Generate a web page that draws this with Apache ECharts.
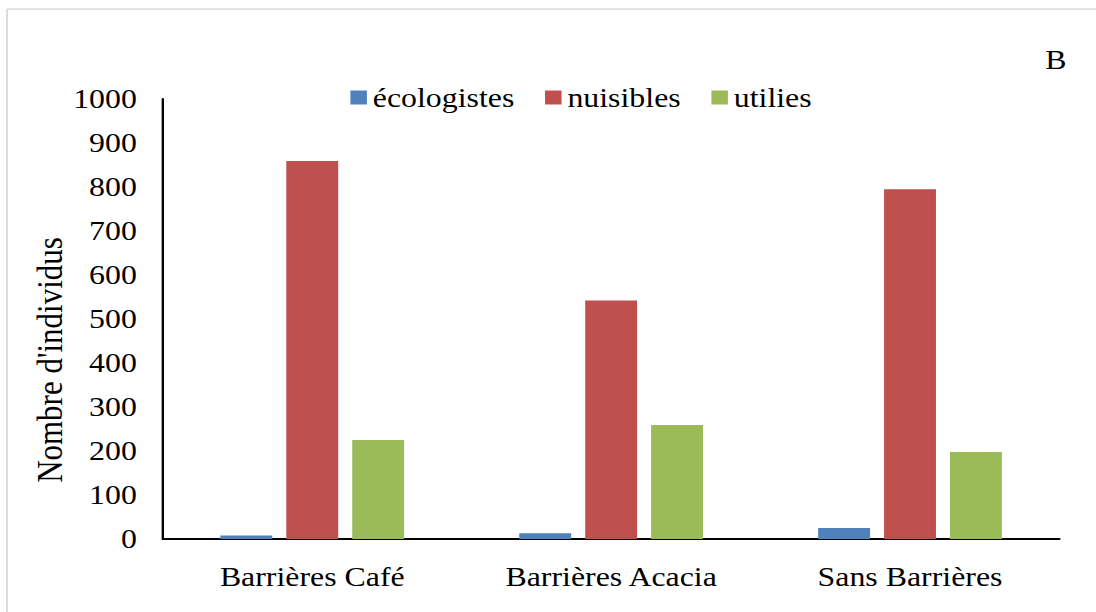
<!DOCTYPE html>
<html>
<head>
<meta charset="utf-8">
<script src="https://cdn.jsdelivr.net/npm/echarts@6/dist/echarts.min.js"></script>
<style>
  html, body { margin: 0; padding: 0; background: #ffffff; overflow: hidden; }
  #wrap { width: 1096px; height: 612px; overflow: hidden; background: #ffffff; }
  /* the drawing is laid out narrower and widened so the serif text keeps its wide look */
  #chart { width: 940px; height: 612px; transform: scaleX(1.1798); transform-origin: 0 0; }
</style>
</head>
<body>
<div id="wrap"><div id="chart"></div></div>
<script>
const categories = ['Barrières Café', 'Barrières Acacia', 'Sans Barrières'];
const ecologistes = [8, 13, 25];
const nuisibles = [859, 542, 795];
const utilies = [225, 259, 198];
const yTicks = { min: 0, max: 1000, interval: 100 };
const yTitle = "Nombre d'individus";
const panelLetter = 'B';

const serif = 'Liberation Serif';
const chart = echarts.init(document.getElementById('chart'), null, { renderer: 'svg' });

const bar = (name, data, color) => ({
  name: name,
  type: 'bar',
  data: data,
  barWidth: 44,
  barGap: '27%',
  itemStyle: { color: color },
  emphasis: { disabled: true }
});

const frameStyle = { stroke: '#d9d9d9', lineWidth: 1.6 };

chart.setOption({
  animation: false,
  backgroundColor: '#ffffff',
  grid: { left: 138, right: 42, top: 99, bottom: 73, containLabel: false },
  legend: {
    left: 292,
    top: 79,
    itemWidth: 14,
    itemHeight: 14,
    itemGap: 26,
    icon: 'rect',
    textStyle: { fontFamily: serif, fontSize: 27, color: '#000000' },
    data: ['écologistes', 'nuisibles', 'utilies']
  },
  xAxis: {
    type: 'category',
    data: categories,
    axisLine: { lineStyle: { color: '#000000', width: 2 } },
    axisTick: { show: false },
    axisLabel: { fontFamily: serif, fontSize: 27, color: '#000000', margin: 24 }
  },
  yAxis: {
    type: 'value',
    min: yTicks.min,
    max: yTicks.max,
    interval: yTicks.interval,
    splitLine: { show: false },
    axisLine: { show: true, lineStyle: { color: '#000000', width: 2 } },
    axisTick: { show: false },
    axisLabel: {
      fontFamily: serif, fontSize: 27, color: '#000000', margin: 22,
      formatter: (v) => String(v)
    }
  },
  graphic: [
    // light frame around the chart area (left and top edges)
    {
      type: 'line',
      shape: { x1: 6, y1: 9, x2: 6, y2: 700 },
      style: frameStyle,
      silent: true
    },
    {
      type: 'line',
      shape: { x1: 6, y1: 9, x2: 2000, y2: 9 },
      style: frameStyle,
      silent: true
    },
    {
      type: 'text',
      x: 42,
      y: 360,
      rotation: Math.PI / 2,
      style: {
        text: yTitle,
        fontFamily: serif,
        fontSize: 31,
        fill: '#000000',
        align: 'center',
        verticalAlign: 'middle'
      }
    },
    {
      type: 'text',
      x: 886,
      y: 60,
      style: {
        text: panelLetter,
        fontFamily: serif,
        fontSize: 27,
        fill: '#000000',
        align: 'left',
        verticalAlign: 'middle'
      }
    }
  ],
  series: [
    bar('écologistes', ecologistes, '#4F81BD'),
    bar('nuisibles', nuisibles, '#C0504D'),
    bar('utilies', utilies, '#9BBB59')
  ]
});
</script>
</body>
</html>
